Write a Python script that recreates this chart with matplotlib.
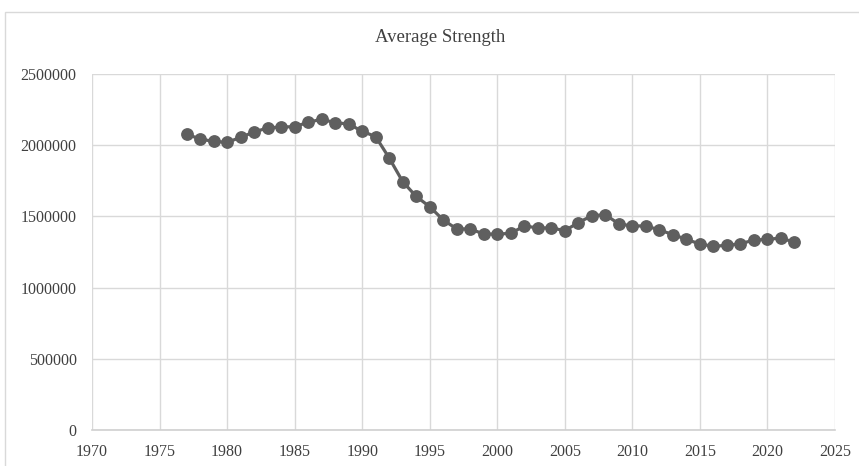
import matplotlib
matplotlib.use("Agg")
import matplotlib.pyplot as plt
from matplotlib.patches import Rectangle

years = list(range(1977, 2023))
strength = [2078000, 2043000, 2027000, 2020000, 2055000, 2093000, 2121000, 2128000,
            2130000, 2161000, 2182000, 2158000, 2149000, 2098000, 2060000, 1910000,
            1744000, 1640000, 1568000, 1475000, 1412000, 1412000, 1376000, 1376000,
            1381000, 1433000, 1419000, 1419000, 1400000, 1456000, 1505000, 1512000,
            1447000, 1433000, 1433000, 1405000, 1372000, 1339000, 1306000, 1290000,
            1297000, 1308000, 1334000, 1339000, 1348000, 1318000]
title = "Average Strength"
xticks = list(range(1970, 2030, 5))
yticks = list(range(0, 2500001, 500000))

plt.rcParams['font.family'] = ['Liberation Serif', 'DejaVu Serif']

W, H = 859, 466
fig = plt.figure(figsize=(W / 100, H / 100), dpi=100)
fig.patch.set_facecolor('white')

# outer chart border
fig.patches.append(Rectangle((5 / W, -0.05), 1.2, 1 - 12 / H + 0.05, transform=fig.transFigure,
                             fill=False, edgecolor='#d9d9d9', linewidth=1.0))

ax = fig.add_axes([92 / W, 1 - 430 / H, (835 - 92) / W, (430 - 74) / H])
ax.plot(years, strength, color='#5f5f5f', linewidth=2.3, marker='o', markersize=8.2,
        markerfacecolor='#5f5f5f', markeredgecolor='#5f5f5f', zorder=3, clip_on=False)

ax.set_xlim(1970, 2025)
ax.set_ylim(0, 2500000)
ax.set_xticks(xticks)
ax.set_yticks(yticks)
ax.set_xticklabels([str(v) for v in xticks])
ax.set_yticklabels([str(v) for v in yticks])
ax.grid(True, color='#d9d9d9', linewidth=1.0)
ax.set_axisbelow(True)
for s in ['top', 'right', 'left']:
    ax.spines[s].set_visible(False)
ax.spines['bottom'].set_color('#d0d0d0')
ax.spines['bottom'].set_linewidth(1.2)
ax.tick_params(axis='both', length=0, labelsize=11.5, colors='#404040')
ax.tick_params(axis='y', pad=11)
ax.tick_params(axis='x', pad=10)

fig.text(440 / W, 1 - 38 / H, title, ha='center', va='center', fontsize=13.5, color='#404040')

fig.savefig('out.png', dpi=100)
